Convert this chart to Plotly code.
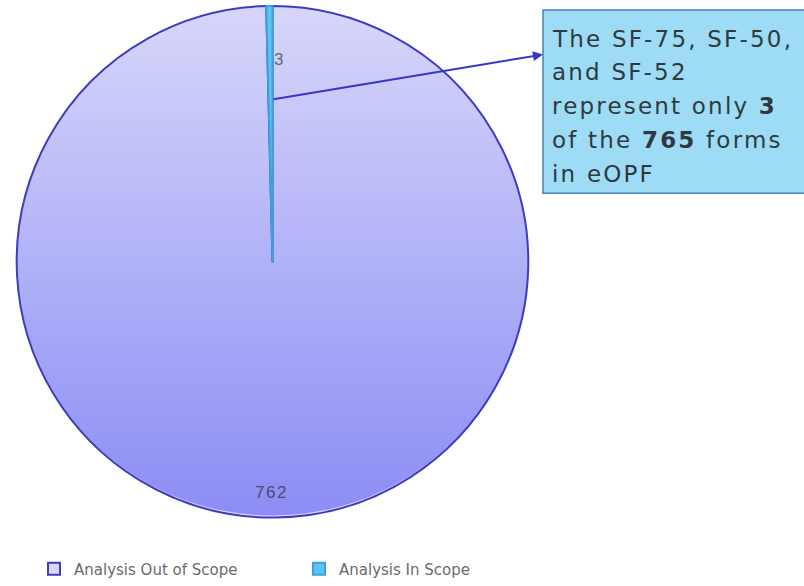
import base64
import plotly.graph_objects as go

# Form counts in eOPF, split by analysis scope
categories = ["Analysis Out of Scope", "Analysis In Scope"]
form_counts = [762, 3]
slice_colors = ["rgba(177,177,248,0.5)", "#5cc6f2"]
edge_colors = ["#3c3cc0", "#3d9fe0"]

total_forms = sum(form_counts)
in_scope = form_counts[categories.index("Analysis In Scope")]
out_scope = form_counts[categories.index("Analysis Out of Scope")]

W, H = 804, 586

# Pie placement (pixels): centre and radius of the domain box
cx, cy, r = 272.5, 264, 258
pie_x = [(cx - r) / W, (cx + r) / W]
pie_y = [1 - (cy + r) / H, 1 - (cy - r) / H]

# Vertical light-to-dark shading under the translucent pie face
shade_svg = (
    '<svg xmlns="http://www.w3.org/2000/svg" width="200" height="200">'
    '<defs><linearGradient id="g" x1="0" y1="0" x2="0" y2="1">'
    '<stop offset="0" stop-color="#fbfbfe"/><stop offset="1" stop-color="#6767f2"/>'
    '</linearGradient></defs><circle cx="100" cy="100" r="99.2" fill="url(#g)"/></svg>'
)
shade_src = "data:image/svg+xml;base64," + base64.b64encode(shade_svg.encode()).decode()

fig = go.Figure()
fig.add_trace(go.Pie(
    labels=categories,
    values=form_counts,
    sort=False,
    direction="clockwise",
    rotation=0,
    marker=dict(colors=slice_colors, line=dict(color=edge_colors, width=2)),
    textinfo="none",
    hoverinfo="label+value",
    domain=dict(x=pie_x, y=pie_y),
))

fig.add_layout_image(dict(
    source=shade_src, xref="paper", yref="paper",
    x=pie_x[0], y=pie_y[1], sizex=pie_x[1] - pie_x[0], sizey=pie_y[1] - pie_y[0],
    xanchor="left", yanchor="top", sizing="stretch", layer="below",
))

# Value labels for the two slices
fig.add_annotation(x=278 / W, y=1 - 60 / H, xref="paper", yref="paper",
                   xanchor="center", yanchor="middle",
                   text=str(in_scope), showarrow=False,
                   font=dict(family="Liberation Sans", size=17, color="#666677"))
fig.add_annotation(x=271 / W, y=1 - 497 / H, xref="paper", yref="paper",
                   xanchor="center", yanchor="middle",
                   text=f'<span style="letter-spacing:1.5px">{out_scope}</span>',
                   showarrow=False,
                   font=dict(family="Liberation Sans", size=17, color="#4a4a72"))

# Callout box
fig.add_shape(type="rect", xref="paper", yref="paper",
              x0=543 / W, x1=1.02, y0=1 - 195 / H, y1=1 - 10 / H,
              fillcolor="#9edcf6", line=dict(color="#4a80b4", width=1.5))

callout_lines = [
    "The SF-75, SF-50,",
    "and SF-52",
    f"represent only <b>{in_scope}</b>",
    f"of the <b>{total_forms}</b> forms",
    "in eOPF",
]
for i, line in enumerate(callout_lines):
    fig.add_annotation(
        x=550 / W, y=1 - (39 + 34 * i) / H, xref="paper", yref="paper",
        xanchor="left", yanchor="middle", align="left", showarrow=False,
        text=f'<span style="letter-spacing:2.2px">{line}</span>',
        font=dict(family="DejaVu Sans", size=23, color="#2e3a40"),
    )

# Arrow from the in-scope sliver to the callout
fig.add_annotation(x=543 / W, y=1 - 55 / H, xref="paper", yref="paper",
                   ax=272 - 543, ay=100 - 55, text="", showarrow=True,
                   arrowhead=2, arrowsize=1, arrowwidth=2, arrowcolor="#3535cc")

fig.update_layout(
    width=W, height=H,
    margin=dict(l=0, r=0, t=0, b=0),
    paper_bgcolor="white",
    plot_bgcolor="white",
    showlegend=True,
    legend=dict(orientation="h", x=34 / W, y=1 - 574 / H, xanchor="left", yanchor="middle",
                entrywidth=220, entrywidthmode="pixels",
                font=dict(family="DejaVu Sans", size=15, color="#6a6a6a"),
                itemclick=False),
)

fig.write_html("out.html")
